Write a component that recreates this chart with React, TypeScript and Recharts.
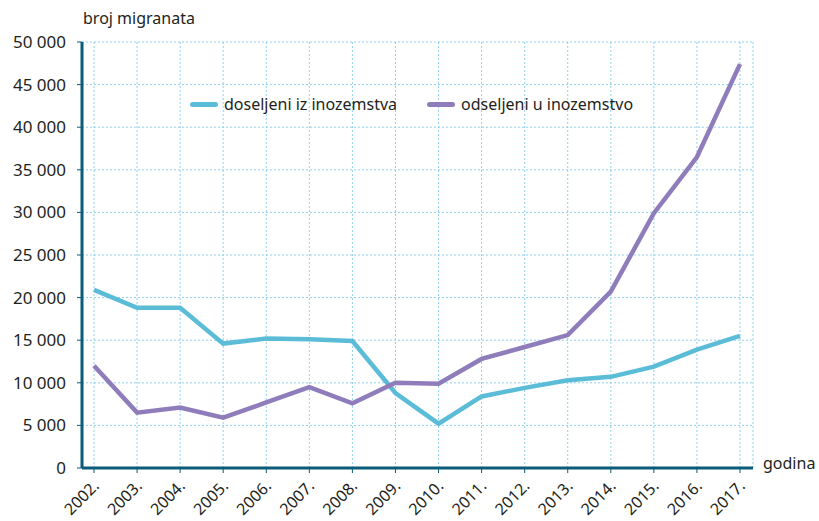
import React from "react";
import {
  LineChart,
  Line,
  XAxis,
  YAxis,
  CartesianGrid,
} from "recharts";

const years = [
  "2002.", "2003.", "2004.", "2005.", "2006.", "2007.", "2008.", "2009.",
  "2010.", "2011.", "2012.", "2013.", "2014.", "2015.", "2016.", "2017.",
];
const doseljeni = [
  20900, 18800, 18800, 14600, 15200, 15100, 14900, 8800,
  5200, 8400, 9400, 10300, 10700, 11900, 13900, 15500,
];
const odseljeni = [
  12000, 6500, 7100, 5900, 7700, 9500, 7600, 10000,
  9900, 12800, 14200, 15600, 20700, 29900, 36500, 47400,
];
const yTicks = [0, 5000, 10000, 15000, 20000, 25000, 30000, 35000, 40000, 45000, 50000];

const data = years.map((year, i) => ({
  year,
  doseljeni: doseljeni[i],
  odseljeni: odseljeni[i],
}));

const FONT = "'Noto Sans', sans-serif";
const TEXT = "#231f20";
const AXIS = "#0b5c78";
const CYAN = "#5bbcd8";
const PURPLE = "#8f7dbb";

const fmt = (v: number) => (v === 0 ? "0" : `${v / 1000} 000`);

const XTick = (props: any) => {
  const { x, y, payload } = props;
  return (
    <text
      x={x + 6}
      y={y + 12}
      transform={`rotate(-45, ${x + 6}, ${y + 12})`}
      textAnchor="end"
      fontSize={16}
      fontFamily={FONT}
      fill={TEXT}
    >
      {payload.value}
    </text>
  );
};

const legendItems = [
  { c: CYAN, t: "doseljeni iz inozemstva" },
  { c: PURPLE, t: "odseljeni u inozemstvo" },
];

const App = () => {
  return (
    <div style={{ position: "absolute", left: 0, top: 0, width: 819, height: 521, background: "#fff" }}>
      <LineChart
        width={819}
        height={521}
        data={data}
        margin={{ top: 42, right: 66, left: 0, bottom: 0 }}
      >
        <CartesianGrid stroke="#8fd0ef" strokeDasharray="2 2" strokeWidth={1} />
        <XAxis
          dataKey="year"
          height={53}
          padding={{ left: 12, right: 13 }}
          axisLine={{ stroke: AXIS, strokeWidth: 3 }}
          tickLine={{ stroke: AXIS, strokeWidth: 1 }}
          tickSize={5}
          interval={0}
          tick={<XTick />}
        />
        <YAxis
          width={82}
          domain={[0, 50000]}
          ticks={yTicks}
          tickFormatter={fmt}
          axisLine={{ stroke: AXIS, strokeWidth: 3 }}
          tickLine={{ stroke: AXIS, strokeWidth: 1 }}
          tickSize={5}
          tickMargin={11}
          tick={{ fontSize: 17, fontFamily: FONT, fill: TEXT }}
        />
        <Line
          type="linear"
          dataKey="doseljeni"
          stroke={CYAN}
          strokeWidth={4.5}
          dot={false}
          isAnimationActive={false}
        />
        <Line
          type="linear"
          dataKey="odseljeni"
          stroke={PURPLE}
          strokeWidth={4.5}
          dot={false}
          isAnimationActive={false}
        />
      </LineChart>
      <div
        style={{
          position: "absolute",
          left: 190,
          top: 93,
          display: "flex",
          fontFamily: FONT,
          fontSize: 16,
          color: TEXT,
        }}
      >
        {legendItems.map((it, i) => (
          <div key={i} style={{ display: "flex", alignItems: "center", marginRight: 30 }}>
            <span
              style={{
                display: "inline-block",
                width: 28,
                height: 5,
                borderRadius: 3,
                background: it.c,
                marginRight: 6,
              }}
            />
            <span>{it.t}</span>
          </div>
        ))}
      </div>
      <div style={{ position: "absolute", left: 83, top: 7, fontFamily: FONT, fontSize: 16, color: TEXT }}>
        broj migranata
      </div>
      <div style={{ position: "absolute", left: 763, top: 452, fontFamily: FONT, fontSize: 16, color: TEXT }}>
        godina
      </div>
    </div>
  );
};

export default App;
